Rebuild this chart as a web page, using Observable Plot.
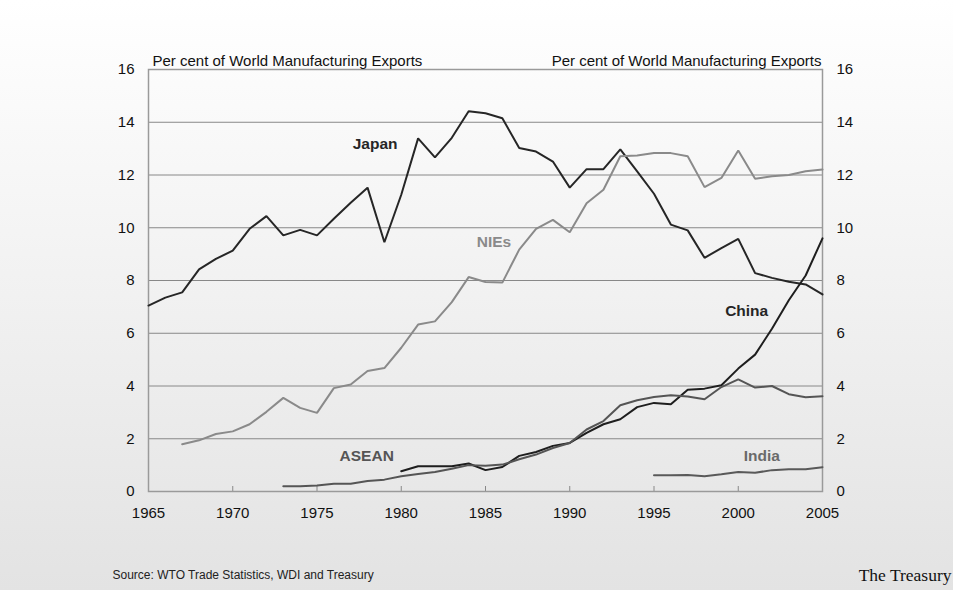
<!DOCTYPE html>
<html>
<head>
<meta charset="utf-8">
<script src="https://cdn.jsdelivr.net/npm/d3@7"></script>
<script src="https://cdn.jsdelivr.net/npm/@observablehq/plot@0.6"></script>
<style>
  html, body { margin: 0; padding: 0; }
  body { width: 953px; height: 590px; overflow: hidden;
         background: linear-gradient(to bottom, #ffffff 0%, #e3e3e3 100%);
         font-family: "Liberation Sans", Arial, sans-serif; }
</style>
</head>
<body>
<div id="chart"></div>
<script>
// ---- data ----
const japanYears = d3.range(1965, 2006);
const japanValues = [7.05, 7.35, 7.55, 8.42, 8.82, 9.13, 9.96, 10.44, 9.71, 9.92, 9.71, 10.34, 10.95, 11.52, 9.45,
  11.25, 13.39, 12.67, 13.41, 14.42, 14.34, 14.15, 13.02, 12.89, 12.51, 11.52, 12.22, 12.22, 12.97, 12.14,
  11.29, 10.12, 9.9, 8.86, 9.23, 9.58, 8.28, 8.1, 7.95, 7.85, 7.47];
const niesYears = d3.range(1967, 2006);
const niesValues = [1.79, 1.94, 2.18, 2.28, 2.55, 3.02, 3.55, 3.17, 2.98, 3.92, 4.06, 4.57, 4.68, 5.45, 6.33,
  6.45, 7.18, 8.13, 7.94, 7.92, 9.17, 9.96, 10.3, 9.83, 10.93, 11.44, 12.71, 12.74, 12.83, 12.83, 12.71,
  11.54, 11.89, 12.93, 11.86, 11.95, 12.0, 12.14, 12.21];
const chinaYears = d3.range(1980, 2006);
const chinaValues = [0.77, 0.96, 0.96, 0.96, 1.06, 0.81, 0.93, 1.35, 1.5, 1.73, 1.84, 2.22, 2.55, 2.74, 3.2,
  3.36, 3.31, 3.86, 3.9, 4.03, 4.66, 5.19, 6.17, 7.25, 8.19, 9.6];
const aseanYears = d3.range(1973, 2006);
const aseanValues = [0.2, 0.2, 0.23, 0.29, 0.29, 0.4, 0.45, 0.58, 0.66, 0.74, 0.86, 1.0, 0.98, 1.02, 1.22,
  1.4, 1.65, 1.84, 2.35, 2.67, 3.27, 3.46, 3.58, 3.65, 3.6, 3.5, 3.96, 4.25, 3.94, 4.0, 3.69, 3.57, 3.61];
const indiaYears = d3.range(1995, 2006);
const indiaValues = [0.62, 0.62, 0.63, 0.58, 0.65, 0.74, 0.71, 0.81, 0.84, 0.84, 0.92];

const seriesNames = ["Japan", "NIEs", "China", "ASEAN", "India"];
const seriesColors = ["#262626", "#8a8a8a", "#1e1e1e", "#555555", "#595959"];
const labelColors = ["#262626", "#8a8a8a", "#262626", "#555555", "#6a6a6a"];
const labelX = [1978.45, 1985.5, 2000.5, 1977.95, 2001.4];
const labelY = [13.16, 9.45, 6.84, 1.35, 1.35];

const xTicks = [1965, 1970, 1975, 1980, 1985, 1990, 1995, 2000, 2005];
const yTicks = [0, 2, 4, 6, 8, 10, 12, 14, 16];
const axisTitle = "Per cent of World Manufacturing Exports";
const sourceText = "Source: WTO Trade Statistics, WDI and Treasury";
const brandText = "The Treasury";

// ---- build table ----
const rows = [];
[[japanYears, japanValues, "Japan"], [niesYears, niesValues, "NIEs"], [chinaYears, chinaValues, "China"],
 [aseanYears, aseanValues, "ASEAN"], [indiaYears, indiaValues, "India"]].forEach(([ys, vs, name]) => {
  ys.forEach((y, i) => rows.push({year: y, value: vs[i], series: name}));
});
const labels = seriesNames.map((s, i) => ({series: s, x: labelX[i], y: labelY[i], color: labelColors[i]}));

const W = 953, H = 590, mL = 148, mR = 131, mT = 69, mB = 99;
const frameH = H - mT - mB;

const chart = Plot.plot({
  width: W, height: H,
  marginLeft: mL, marginRight: mR, marginTop: mT, marginBottom: mB,
  style: {background: "transparent", fontFamily: "'Liberation Sans', Arial, sans-serif", fontSize: "15px", color: "#111"},
  x: {domain: [1965, 2005]},
  y: {domain: [0, 16]},
  color: {domain: seriesNames, range: seriesColors},
  marks: [
    Plot.gridY(yTicks, {stroke: "#888", strokeOpacity: 1, strokeWidth: 1}),
    Plot.ruleX(xTicks, {stroke: "#888", strokeWidth: 1, insetTop: frameH - 5}),
    Plot.frame({stroke: "#9a9a9a", strokeWidth: 1.5}),
    Plot.axisY(yTicks, {anchor: "left", tickSize: 0, tickPadding: 14, label: null, fontSize: 15}),
    Plot.axisY(yTicks, {anchor: "right", tickSize: 0, tickPadding: 14, label: null, fontSize: 15}),
    Plot.axisX(xTicks, {anchor: "bottom", tickSize: 0, tickPadding: 16, tickFormat: d => String(d), label: null, fontSize: 15}),
    Plot.line(rows, {x: "year", y: "value", z: "series", stroke: "series", strokeWidth: 2, strokeLinejoin: "miter"}),
    Plot.text(labels, {x: "x", y: "y", text: "series", fill: "color", fontWeight: "bold", fontSize: 15.5}),
    Plot.text([axisTitle], {frameAnchor: "top-left", textAnchor: "start", dx: 4, dy: -14, fontSize: 15, fill: "#111"}),
    Plot.text([axisTitle], {frameAnchor: "top-right", textAnchor: "end", dx: -1, dy: -14, fontSize: 15, fill: "#111"}),
    Plot.text([sourceText], {frameAnchor: "bottom-left", textAnchor: "start", dx: -36, dy: 87, fontSize: 12, fill: "#222"}),
    Plot.text([brandText], {frameAnchor: "bottom-right", textAnchor: "end", dx: 129, dy: 89, fontSize: 17.5, fill: "#111", fontFamily: "'Liberation Serif', 'Times New Roman', serif"})
  ]
});
document.getElementById("chart").appendChild(chart);
</script>
</body>
</html>
